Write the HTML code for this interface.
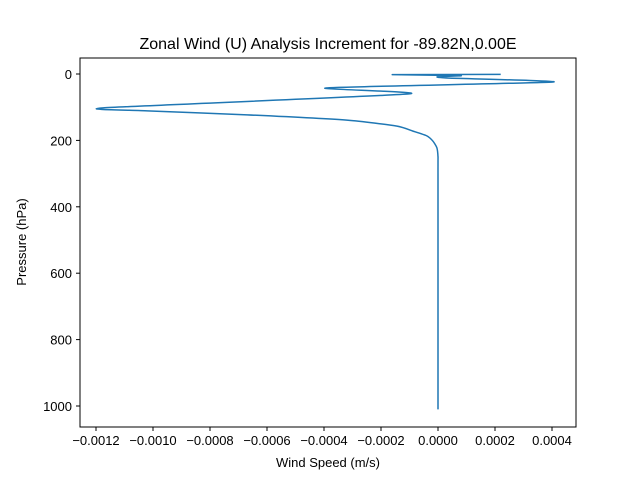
<!DOCTYPE html>
<html><head><meta charset="utf-8"><style>body{margin:0;background:#fff}svg{display:block;font-family:"Liberation Sans","DejaVu Sans",sans-serif}</style></head>
<body>
<svg id="chart" width="640" height="480">
<rect x="0" y="0" width="640" height="480" fill="#fff"/>
<text x="328" y="49" font-size="16" text-anchor="middle">Zonal Wind (U) Analysis Increment for -89.82N,0.00E</text>
<g id="plot"></g>
<rect x="80" y="58" width="496" height="369" fill="none" stroke="#000" stroke-width="1"/>
<text x="328" y="467" font-size="13" text-anchor="middle">Wind Speed (m/s)</text>
<text transform="translate(26,242) rotate(-90)" font-size="13" text-anchor="middle">Pressure (hPa)</text>
</svg>
<script>
const pressures=[1,2,5,8,12,24,42,60,102,111,123,139,157,172,186,202,222,250,300,1010];
const winds=[0.00022,-0.00016,0.00008,0.0,0.00003,0.000404,-0.000393,-0.000102,-0.001175,-0.00102,-0.00067,-0.00032,-0.000144,-0.000088,-0.00004,-0.000018,-0.000004,0.0,0.0,0.0];
const xTicks=[-0.0012,-0.0010,-0.0008,-0.0006,-0.0004,-0.0002,0.0000,0.0002,0.0004];
const yTicks=[0,200,400,600,800,1000];
const ns="http://www.w3.org/2000/svg";
function sx(v){return 438+v*285000;}
function sy(p){return 74+p*0.332;}
const g=document.getElementById('plot');
xTicks.forEach(t=>{
 const l=document.createElementNS(ns,'line');
 l.setAttribute('x1',sx(t));l.setAttribute('x2',sx(t));l.setAttribute('y1',427);l.setAttribute('y2',431);l.setAttribute('stroke','#000');
 
 
 g.appendChild(l);
 const tx=document.createElementNS(ns,'text');
 tx.setAttribute('x',sx(t));tx.setAttribute('y',445);tx.setAttribute('font-size','13');tx.setAttribute('text-anchor','middle');
 tx.textContent=(t<0?'\u2212':'')+Math.abs(t).toFixed(4);
 
 
 g.appendChild(tx);
});
yTicks.forEach(t=>{
 const l=document.createElementNS(ns,'line');
 l.setAttribute('x1',76);l.setAttribute('x2',80);l.setAttribute('y1',sy(t));l.setAttribute('y2',sy(t));l.setAttribute('stroke','#000');
 
 
 g.appendChild(l);
 const tx=document.createElementNS(ns,'text');
 tx.setAttribute('x',72);tx.setAttribute('y',sy(t)+5);tx.setAttribute('font-size','13');tx.setAttribute('text-anchor','end');
 tx.textContent=String(t);
 
 
 g.appendChild(tx);
});
const pts=pressures.map((p,i)=>[sx(winds[i]),sy(p)]);
let d='M'+pts[0][0]+','+pts[0][1];
for(let i=0;i<pts.length-1;i++){
 const p0=pts[Math.max(0,i-1)],p1=pts[i],p2=pts[i+1],p3=pts[Math.min(pts.length-1,i+2)];
 const k=0.1;
 const c1=[p1[0]+(p2[0]-p0[0])*k,p1[1]+(p2[1]-p0[1])*k];
 const c2=[p2[0]-(p3[0]-p1[0])*k,p2[1]-(p3[1]-p1[1])*k];
 d+=' C'+c1[0]+','+c1[1]+' '+c2[0]+','+c2[1]+' '+p2[0]+','+p2[1];
}
const path=document.createElementNS(ns,'path');
path.setAttribute('d',d);
path.setAttribute('fill','none');path.setAttribute('stroke','#1f77b4');path.setAttribute('stroke-width','1.5');path.setAttribute('stroke-linejoin','round');


g.appendChild(path);
</script>
</body></html>
